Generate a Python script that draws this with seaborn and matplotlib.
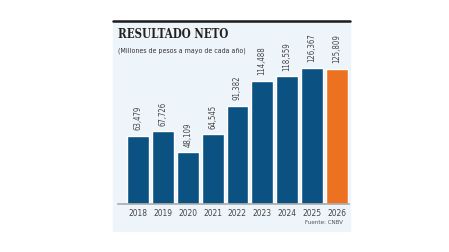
import pandas as pd
import seaborn as sns
import matplotlib.pyplot as plt
from matplotlib.patches import Rectangle

# Datos del gráfico
years = ['2018', '2019', '2020', '2021', '2022', '2023', '2024', '2025', '2026']
values = [63479, 67726, 48109, 64545, 91382, 114488, 118559, 126367, 125809]
labels = ['63,479', '67,726', '48,109', '64,545', '91,382', '114,488', '118,559', '126,367', '125,809']
bar_colors = ['#0b5282'] * 8 + ['#ec7222']

df = pd.DataFrame({'year': years, 'value': values})

sns.set_style('white')
plt.rcParams['font.family'] = ['DejaVu Sans']
plt.rcParams['font.stretch'] = 'condensed'

W, H = 449, 252
fig = plt.figure(figsize=(W / 100, H / 100), dpi=100)

# Fondo azul claro del recuadro
fig.patches.append(Rectangle((113 / W, 1 - 231 / H), 237 / W, 210 / H,
                             transform=fig.transFigure, color='#eef5fa', zorder=-5))
# Línea negra superior
fig.lines.append(plt.Line2D([113 / W, 350 / W], [1 - 21 / H, 1 - 21 / H],
                            transform=fig.transFigure, color='#1a1a1a', lw=1.8))

scale = 1.077  # px por millar
base = 204
top = 60
ax = fig.add_axes([118.4 / W, 1 - base / H, 230.6 / W, (base - top) / H])
ax.set_facecolor('none')
ax.set_zorder(2)

sns.barplot(data=df, x='year', y='value', hue='year', palette=bar_colors,
            legend=False, width=0.88, saturation=1, ax=ax)
ax.set_xlim(-0.8, 8.5)
ax.set_ylim(0, (base - top) / scale * 1000)

for i, (v, lab) in enumerate(zip(values, labels)):
    ax.annotate(lab, (i, v), xytext=(0, 4), textcoords='offset points',
                rotation=90, ha='center', va='bottom', fontsize=5.6, color='#444444',
                annotation_clip=False)

for s in ['top', 'right', 'left']:
    ax.spines[s].set_visible(False)
ax.spines['bottom'].set_color('#aaaaaa')
ax.spines['bottom'].set_linewidth(1.2)
ax.set_yticks([])
ax.set_xlabel('')
ax.set_ylabel('')
ax.tick_params(axis='x', length=0, labelsize=6, labelcolor='#444444', pad=3.5)

fig.text(118 / W, 1 - 35 / H, 'RESULTADO NETO', family=['DejaVu Serif'],
         fontweight='bold', fontstretch='condensed', fontsize=8.3, color='#222222', va='center')
fig.text(118 / W, 1 - 51 / H, '(Millones de pesos a mayo de cada año)',
         fontsize=5, color='#333333', va='center')
fig.text(343 / W, 1 - 223 / H, 'Fuente: CNBV', fontsize=4.5, color='#555555',
         ha='right', va='center')

plt.savefig('out.png', dpi=100)
